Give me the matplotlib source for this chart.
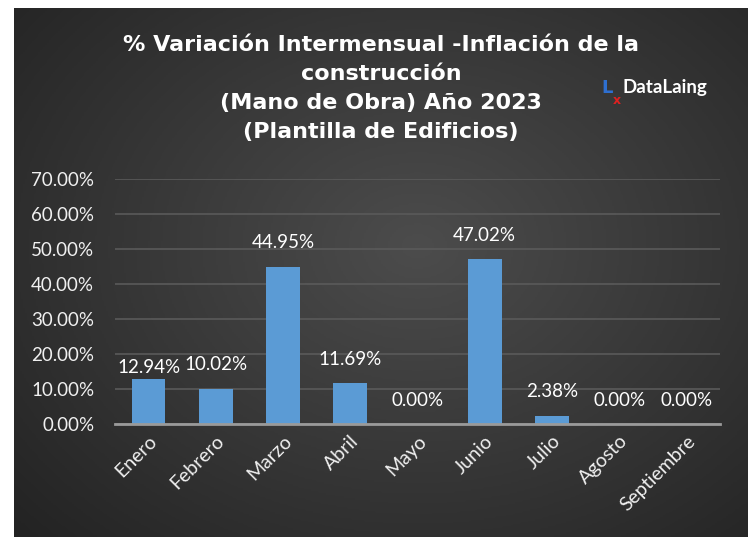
import numpy as np
import matplotlib.pyplot as plt
from matplotlib.colors import LinearSegmentedColormap

# datos
meses = ['Enero', 'Febrero', 'Marzo', 'Abril', 'Mayo', 'Junio', 'Julio', 'Agosto', 'Septiembre']
variacion = [12.94, 10.02, 44.95, 11.69, 0.00, 47.02, 2.38, 0.00, 0.00]
yticks = [0, 10, 20, 30, 40, 50, 60, 70]
# desplazamiento de etiquetas (px), Enero movida a mano en el original
offsets = [11, 24, 24, 24, 24, 24, 24, 24, 24]

fig = plt.figure(figsize=(7.53, 5.37), dpi=100)
fig.patch.set_facecolor('white')

# fondo oscuro con degradado radial
bg = fig.add_axes([14 / 753, 0, 734 / 753, 529 / 537], zorder=-5)
yy, xx = np.mgrid[0:1:300j, 0:1:400j]
r = np.sqrt(((xx - 0.55) / 0.75) ** 2 + ((yy - 0.45) / 0.8) ** 2)
grad = np.clip(1 - r, 0, 1)
cmap_bg = LinearSegmentedColormap.from_list('bg', ['#232323', '#4c4c4c'])
bg.imshow(grad, cmap=cmap_bg, aspect='auto', extent=[0, 1, 0, 1], origin='upper')
bg.axis('off')

ax = fig.add_axes([115 / 753, 1 - 424 / 537, 605 / 753, 245 / 537])
ax.set_facecolor('none')

x = np.arange(len(meses))
bars = ax.bar(x, variacion, width=0.5, color='#5b9bd5', zorder=3)

for i, b in enumerate(bars):
    ax.annotate(f'{variacion[i]:.2f}%', (b.get_x() + b.get_width() / 2, b.get_height()),
                xytext=(0, offsets[i]), textcoords='offset pixels',
                ha='center', va='center', color='white', fontsize=13.5, family='Lato')

ax.set_xlim(-0.5, len(meses) - 0.5)
ax.set_ylim(0, 70)
ax.set_yticks(yticks)
ax.set_yticklabels([f'{v:.2f}%' for v in yticks], color='#f0f0f0', fontsize=13.5, family='Lato')
ax.set_xticks(x)
ax.set_xticklabels(meses, rotation=45, ha='right', rotation_mode='anchor',
                   color='#f0f0f0', fontsize=14, family='Lato')
ax.tick_params(axis='y', length=0, pad=15)
ax.tick_params(axis='x', length=0, pad=6)

ax.grid(axis='y', color='#5a5a5a', linewidth=1.2, zorder=0)
ax.set_axisbelow(True)
for s in ['top', 'right', 'left']:
    ax.spines[s].set_visible(False)
ax.spines['bottom'].set_color('#9a9a9a')
ax.spines['bottom'].set_linewidth(2)
ax.spines['bottom'].set_zorder(4)

# titulo
titulo = ['% Variación Intermensual -Inflación de la', 'construcción',
          '(Mano de Obra) Año 2023', '(Plantilla de Edificios)']
for k, linea in enumerate(titulo):
    fig.text(381 / 753, 1 - (45 + k * 29) / 537, linea, ha='center', va='center',
             color='white', fontsize=16, fontweight='bold', family='DejaVu Sans')

# logo
fig.text(601 / 753, 1 - 88 / 537, 'L', color='#2e6fd0', fontsize=13, fontweight='bold',
         ha='left', va='center')
fig.text(613 / 753, 1 - 100 / 537, 'x', color='#e02020', fontsize=9, fontweight='bold',
         ha='left', va='center')
fig.text(623 / 753, 1 - 88 / 537, 'DataLaing', color='white', fontsize=13.5,
         fontweight='bold', family='Lato', ha='left', va='center')

fig.savefig('out.png', dpi=100)
